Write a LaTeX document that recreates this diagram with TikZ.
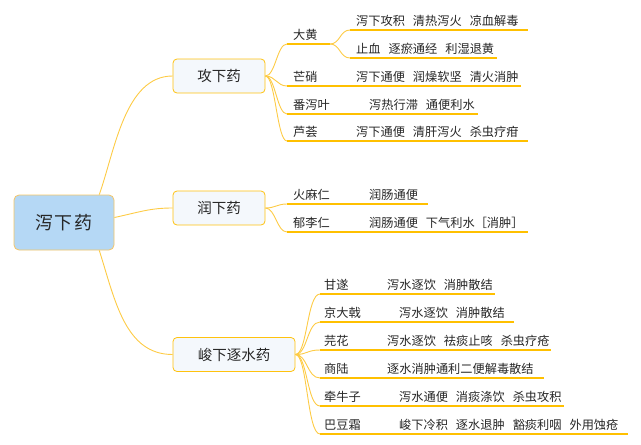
\documentclass[tikz,border=0pt]{standalone}
\usepackage{fontspec}
\usetikzlibrary{calc}
\setmainfont{Noto Sans CJK SC}
\definecolor{rootfill}{HTML}{B5D8F5}
\definecolor{rootborder}{HTML}{F5C564}
\definecolor{brfill}{HTML}{F4F8FC}
\definecolor{brborder}{HTML}{FFC20E}
\definecolor{curvecol}{HTML}{FDCB45}
\definecolor{ulinecol}{HTML}{FFC000}
\definecolor{txt}{HTML}{262626}
\newcommand\phrsep{\hspace{8pt}}
\newcommand\leafline[8]{%
  \coordinate (#1s) at (#2,#4);
  \coordinate (#1e) at (#3,#4);
  \draw[uline] (#1s) -- (#1e);
  \node[leaf] (#1n) at (#5,#4-5) {#6};
  \node[leaf] (#1d) at (#7,#4-5) {#8};
}
\begin{document}
\begin{tikzpicture}[x=1pt,y=-1pt,
  rootbox/.style={draw=rootborder, fill=rootfill, rounded corners=5pt, minimum width=100pt, minimum height=55pt, line width=0.8pt, font=\fontsize{18}{20}\selectfont, text=txt},
  branchbox/.style={draw=brborder, fill=brfill, rounded corners=4pt, minimum height=34pt, line width=0.8pt, font=\fontsize{14.5}{16}\selectfont, text=txt},
  leaf/.style={anchor=base west, inner sep=0pt, font=\fontsize{12.2}{14}\selectfont, text=txt},
  conn/.style={draw=curvecol, line width=0.9pt},
  uline/.style={draw=ulinecol, line width=1.2pt}]
\useasboundingbox (0,0) rectangle (641,445);

\node[rootbox] (root) at (64,222.5) {泻\hspace{2pt}下\hspace{2pt}药};
\node[branchbox, minimum width=92pt] (gong) at (219,76) {攻下药};
\node[branchbox, minimum width=92pt] (run) at (219,208) {润下药};
\node[branchbox, minimum width=122pt] (jun) at (234,354.5) {峻下逐水药};

\coordinate (rtop) at ($(root.north west)!0.85!(root.north east)$);
\coordinate (rbot) at ($(root.south west)!0.85!(root.south east)$);
\draw[conn] (rtop) .. controls (115,150) and (125,76) .. (gong.west);
\draw[conn] ([yshift=5pt]root.east) .. controls (140,212) and (150,208) .. (run.west);
\draw[conn] (rbot) .. controls (115,300) and (125,354.5) .. (jun.west);

% 攻下药
\leafline{dh}{287}{330}{44}{293}{大黄}{293}{}
\leafline{dha}{350}{528}{30}{356}{}{356}{泻下攻积\phrsep 清热泻火\phrsep 凉血解毒}
\leafline{dhb}{350}{497}{58}{356}{}{356}{止血\phrsep 逐瘀通经\phrsep 利湿退黄}
\leafline{mx}{287}{521}{86}{293}{芒硝}{356}{泻下通便\phrsep 润燥软坚\phrsep 清火消肿}
\leafline{fx}{287}{478}{114}{293}{番泻叶}{369}{泻热行滞\phrsep 通便利水}
\leafline{lh}{287}{528}{141}{293}{芦荟}{356}{泻下通便\phrsep 清肝泻火\phrsep 杀虫疗疳}
\foreach \t in {dhs,mxs,fxs,lhs}
  \draw[conn] (gong.east) .. controls +(10,0) and +(-10,0) .. (\t);
\draw[conn] (dhe) .. controls +(10,0) and +(-10,0) .. (dhas);
\draw[conn] (dhe) .. controls +(10,0) and +(-10,0) .. (dhbs);

% 润下药
\leafline{hm}{287}{428}{204}{293}{火麻仁}{369}{润肠通便}
\leafline{yl}{287}{528}{232}{293}{郁李仁}{369}{润肠通便\phrsep 下气利水［消肿］}
\foreach \t in {hms,yls}
  \draw[conn] (run.east) .. controls +(10,0) and +(-10,0) .. (\t);

% 峻下逐水药
\leafline{gs}{320}{495}{294}{324}{甘遂}{387}{泻水逐饮\phrsep 消肿散结}
\leafline{jd}{320}{514}{322}{324}{京大戟}{399}{泻水逐饮\phrsep 消肿散结}
\leafline{yh}{320}{551}{350}{324}{芫花}{387}{泻水逐饮\phrsep 祛痰止咳\phrsep 杀虫疗疮}
\leafline{sl}{320}{544}{378}{324}{商陆}{387}{逐水消肿通利二便解毒散结}
\leafline{qn}{320}{564}{406}{324}{牵牛子}{399}{泻水通便\phrsep 消痰涤饮\phrsep 杀虫攻积}
\leafline{bd}{320}{628}{434}{324}{巴豆霜}{399}{峻下冷积\phrsep 逐水退肿\phrsep 豁痰利咽\phrsep 外用蚀疮}
\foreach \t in {gss,jds,yhs,sls,qns,bds}
  \draw[conn] (jun.east) .. controls +(12,0) and +(-13,0) .. (\t);
\end{tikzpicture}
\end{document}
